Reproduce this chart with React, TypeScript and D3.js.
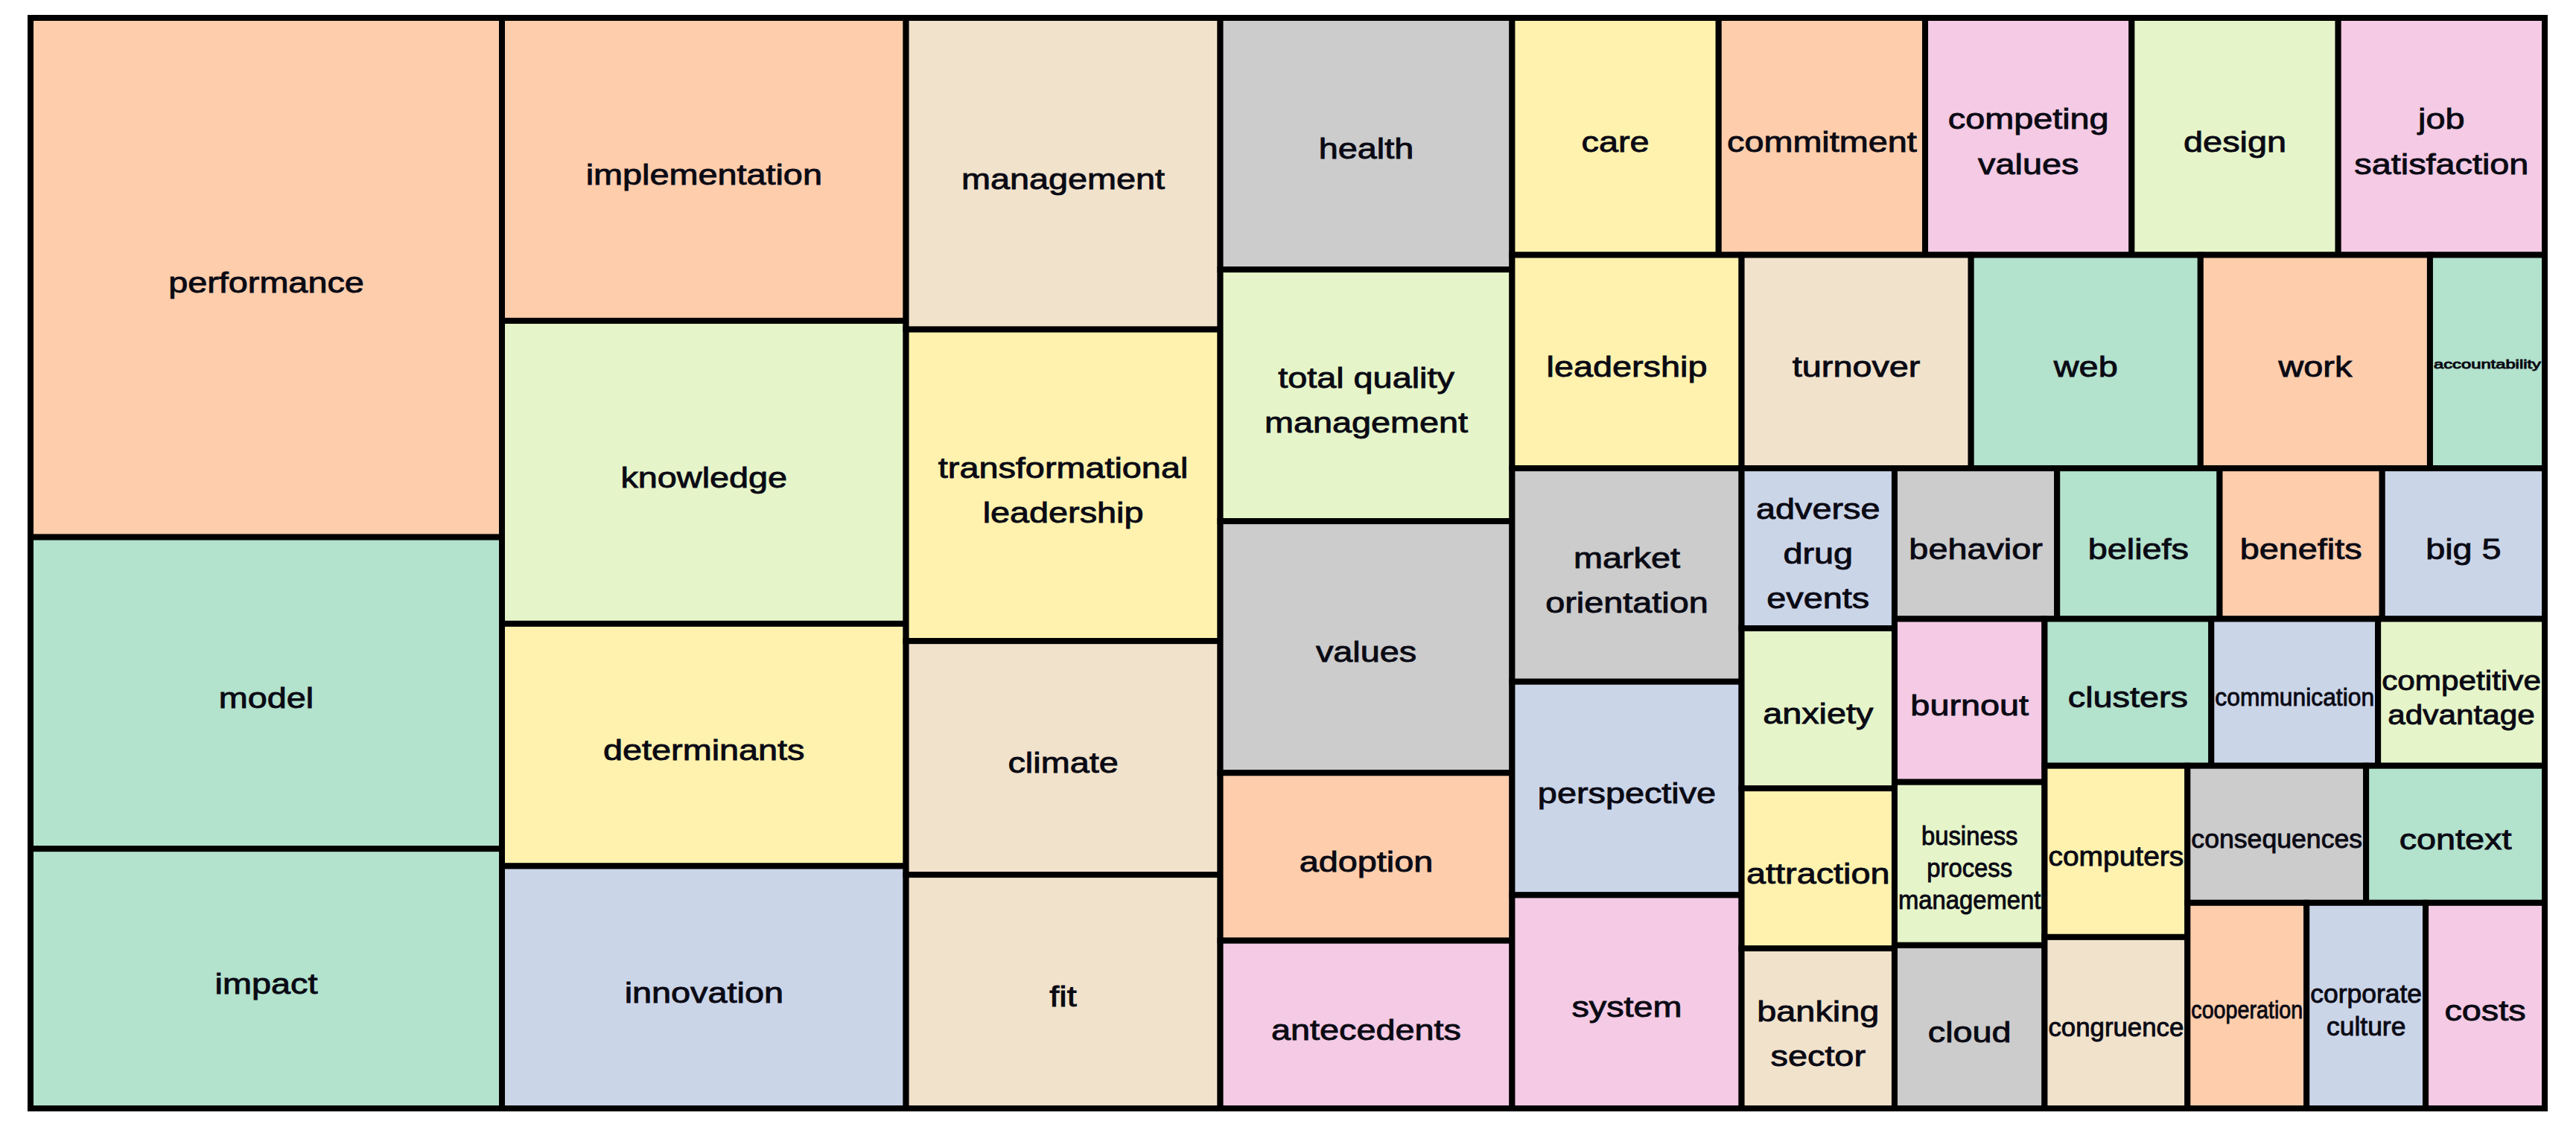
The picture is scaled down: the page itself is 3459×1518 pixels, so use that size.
import React from "react";
import * as d3 from "d3";

// ---- data ----
const keywords: string[] = [
  "performance", "model", "impact", "implementation", "knowledge",
  "determinants", "innovation", "management", "transformational leadership",
  "climate", "fit", "health", "total quality management", "values",
  "adoption", "antecedents", "care", "commitment", "competing values", "design",
  "job satisfaction", "leadership", "turnover", "web", "work",
  "market orientation", "perspective", "system",
  "accountability", "adverse drug events", "anxiety", "attraction", "banking sector",
  "behavior", "beliefs", "benefits", "big 5", "burnout", "business process management",
  "cloud", "clusters", "communication", "competitive advantage", "computers",
  "congruence", "consequences", "context", "cooperation", "corporate culture", "costs",
];
const counts: number[] = [
  10, 6, 5, 5, 5,
  4, 4, 4, 4,
  3, 3, 3, 3, 3,
  2, 2, 2, 2, 2, 2,
  2, 2, 2, 2, 2,
  2, 2, 2,
  1, 1, 1, 1, 1,
  1, 1, 1, 1, 1, 1,
  1, 1, 1, 1, 1,
  1, 1, 1, 1, 1, 1,
];
// Pastel2 palette index for each keyword
const palette: string[] = ["#b3e2cd", "#fdcdac", "#cbd5e8", "#f4cae4", "#e6f5c9", "#fff2ae", "#f1e2cc", "#cccccc"];
const colorIdx: number[] = [
  1, 0, 0, 1, 4,
  5, 2, 6, 5,
  6, 6, 7, 4, 7,
  1, 3, 5, 1, 3, 4,
  3, 5, 6, 0, 1,
  7, 2, 3,
  0, 2, 4, 5, 6,
  7, 0, 1, 2, 3, 4,
  7, 0, 2, 4, 5,
  6, 7, 0, 1, 2, 3,
];

// arrangement of the tiles: "h" = left-to-right, "v" = top-to-bottom
type Spec = { dir: "h" | "v"; children: (string | Spec)[] };
const arrangement: Spec = {
  dir: "h",
  children: [
    { dir: "v", children: ["performance", "model", "impact"] },
    { dir: "v", children: ["implementation", "knowledge", "determinants", "innovation"] },
    { dir: "v", children: ["management", "transformational leadership", "climate", "fit"] },
    { dir: "v", children: ["health", "total quality management", "values", "adoption", "antecedents"] },
    {
      dir: "v",
      children: [
        { dir: "h", children: ["care", "commitment", "competing values", "design", "job satisfaction"] },
        { dir: "h", children: ["leadership", "turnover", "web", "work", "accountability"] },
        {
          dir: "h",
          children: [
            { dir: "v", children: ["market orientation", "perspective", "system"] },
            {
              dir: "h",
              children: [
                { dir: "v", children: ["adverse drug events", "anxiety", "attraction", "banking sector"] },
                {
                  dir: "v",
                  children: [
                    { dir: "h", children: ["behavior", "beliefs", "benefits", "big 5"] },
                    {
                      dir: "h",
                      children: [
                        { dir: "v", children: ["burnout", "business process management", "cloud"] },
                        {
                          dir: "v",
                          children: [
                            { dir: "h", children: ["clusters", "communication", "competitive advantage"] },
                            {
                              dir: "h",
                              children: [
                                { dir: "v", children: ["computers", "congruence"] },
                                {
                                  dir: "v",
                                  children: [
                                    { dir: "h", children: ["consequences", "context"] },
                                    { dir: "h", children: ["cooperation", "corporate culture", "costs"] },
                                  ],
                                },
                              ],
                            },
                          ],
                        },
                      ],
                    },
                  ],
                },
              ],
            },
          ],
        },
      ],
    },
  ],
};

// ---- layout constants ----
const W = 3459;
const H = 1518;
const X0 = 41, Y0 = 24, X1 = 3417, Y1 = 1489;
const BASE_FS = 39;
const SX = 1.2; // horizontal stretch of labels
const FONT = "'Liberation Sans', Arial, sans-serif";

let ctx: CanvasRenderingContext2D | null = null;
function measure(t: string, fs: number): number {
  if (!ctx) ctx = document.createElement("canvas").getContext("2d");
  if (!ctx) return t.length * fs * 0.5;
  ctx.font = `${fs}px ${FONT}`;
  return ctx.measureText(t).width * SX;
}

function fitLabel(name: string, avail: number) {
  const words = name.split(" ");
  const lines: string[] = [];
  let cur = "";
  for (const w of words) {
    const test = cur ? cur + " " + w : w;
    if (!cur || measure(test, BASE_FS) <= avail) cur = test;
    else {
      lines.push(cur);
      cur = w;
    }
  }
  if (cur) lines.push(cur);
  const maxW = Math.max(...lines.map((l) => measure(l, BASE_FS)));
  const f = Math.min(1, avail / maxW);
  // squeeze mostly horizontally; shrink vertically less, except for very long words
  let v: number;
  if (f >= 0.6) v = Math.pow(f, 0.35);
  else v = Math.max(0.35, 0.4 + (f - 0.5) * 4.4);
  v = Math.min(1, v);
  const fs = BASE_FS * v;
  const sx = (SX * f) / v;
  return { lines, fs, sx };
}

type Node = { name?: string; dir?: "h" | "v"; children?: Node[] };

function toNode(s: string | Spec): Node {
  if (typeof s === "string") return { name: s };
  return { dir: s.dir, children: s.children.map(toNode) };
}

export default function App() {
  const valueOf = new Map(keywords.map((k, i) => [k, counts[i]]));
  const colorOf = new Map(keywords.map((k, i) => [k, palette[colorIdx[i]]]));

  const root = d3
    .hierarchy<Node>(toNode(arrangement), (d) => d.children)
    .sum((d) => (d.name ? valueOf.get(d.name) ?? 0 : 0));

  d3
    .treemap<Node>()
    .tile((node, x0, y0, x1, y1) => {
      if ((node.data as Node).dir === "h") d3.treemapDice(node, x0, y0, x1, y1);
      else d3.treemapSlice(node, x0, y0, x1, y1);
    })
    .size([X1 - X0, Y1 - Y0])
    .round(false)(root);

  const leaves = root.leaves() as d3.HierarchyRectangularNode<Node>[];

  return (
    <svg
      width={W}
      height={H}
      style={{ position: "absolute", left: 0, top: 0, background: "#fff" }}
    >
      <g transform={`translate(${X0},${Y0})`}>
        {leaves.map((d) => {
          const name = d.data.name as string;
          const w = d.x1 - d.x0;
          const h = d.y1 - d.y0;
          const { lines, fs, sx } = fitLabel(name, w - 10);
          const spacing = lines.length > 1 && fs < BASE_FS * 0.99 ? 14 + 0.85 * fs : 20 + 1.03 * fs;
          const cx = (d.x0 + d.x1) / 2;
          const cy = (d.y0 + d.y1) / 2;
          const firstBase = cy - ((lines.length - 1) * spacing) / 2 + 0.52 * fs;
          return (
            <g key={name}>
              <rect
                x={d.x0}
                y={d.y0}
                width={w}
                height={h}
                fill={colorOf.get(name)}
                stroke="#000"
                strokeWidth={8}
              />
              {lines.map((l, i) => (
                <text
                  key={i}
                  transform={`translate(${cx},${firstBase + i * spacing}) scale(${sx},1)`}
                  textAnchor="middle"
                  fontFamily={FONT}
                  fontSize={fs}
                  fill="#0a0a14"
                  stroke="#0a0a14"
                  strokeWidth={0.9}
                >
                  {l}
                </text>
              ))}
            </g>
          );
        })}
        <rect
          x={0}
          y={0}
          width={X1 - X0}
          height={Y1 - Y0}
          fill="none"
          stroke="#000"
          strokeWidth={8}
        />
      </g>
    </svg>
  );
}
